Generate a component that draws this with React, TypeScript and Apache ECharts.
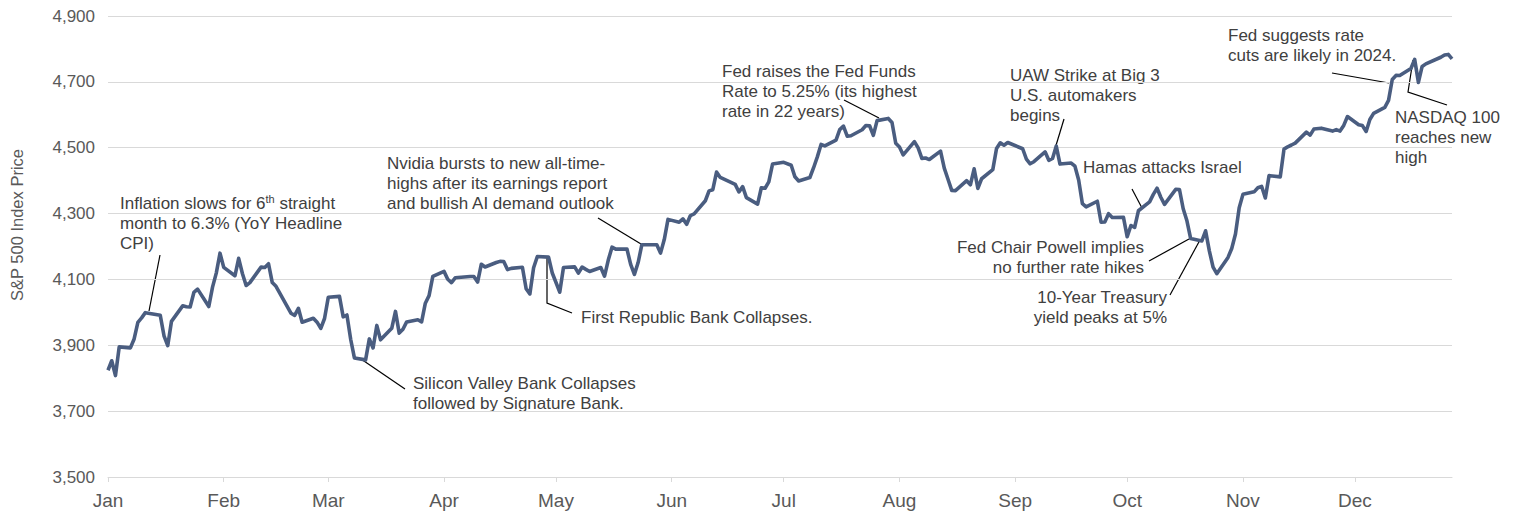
import React, { useEffect, useRef } from "react";
import * as echarts from "echarts";

const YEAR = 2023;
const MONTH_NAMES = ["Jan", "Feb", "Mar", "Apr", "May", "Jun", "Jul", "Aug", "Sep", "Oct", "Nov", "Dec"];
const Y_MIN = 3500;
const Y_MAX = 4900;
const Y_STEP = 200;

const JAN_DAYS = [3, 4, 5, 6, 9, 10, 11, 12, 13, 17, 18, 19, 20, 23, 24, 25, 26, 27, 30, 31];
const JAN_CLOSE = [3824.14, 3852.97, 3808.1, 3895.08, 3892.09, 3919.25, 3969.61, 3983.17, 3999.09, 3990.97, 3928.86, 3898.85, 3972.61, 4019.81, 4016.95, 4016.22, 4060.43, 4070.56, 4017.77, 4076.6];
const FEB_DAYS = [1, 2, 3, 6, 7, 8, 9, 10, 13, 14, 15, 16, 17, 21, 22, 23, 24, 27, 28];
const FEB_CLOSE = [4119.21, 4179.76, 4136.48, 4111.08, 4164.0, 4117.86, 4081.5, 4090.46, 4137.29, 4136.13, 4147.6, 4090.41, 4079.09, 3997.34, 3991.05, 4012.32, 3970.04, 3982.24, 3970.15];
const MAR_DAYS = [1, 2, 3, 6, 7, 8, 9, 10, 13, 14, 15, 16, 17, 20, 21, 22, 23, 24, 27, 28, 29, 30, 31];
const MAR_CLOSE = [3951.39, 3981.35, 4045.64, 4048.42, 3986.37, 3992.01, 3918.32, 3861.59, 3855.76, 3919.29, 3891.93, 3960.28, 3916.64, 3951.57, 4002.87, 3936.97, 3948.72, 3970.99, 3977.53, 3971.27, 4027.81, 4050.83, 4109.31];
const APR_DAYS = [3, 4, 5, 6, 10, 11, 12, 13, 14, 17, 18, 19, 20, 21, 24, 25, 26, 27, 28];
const APR_CLOSE = [4124.51, 4100.6, 4090.38, 4105.02, 4109.11, 4108.94, 4091.95, 4146.22, 4137.64, 4151.32, 4154.87, 4154.52, 4129.79, 4133.52, 4137.04, 4071.63, 4055.99, 4135.35, 4169.48];
const MAY_DAYS = [1, 2, 3, 4, 5, 8, 9, 10, 11, 12, 15, 16, 17, 18, 19, 22, 23, 24, 25, 26, 30, 31];
const MAY_CLOSE = [4167.87, 4119.58, 4090.75, 4061.22, 4136.25, 4138.12, 4119.17, 4137.64, 4130.62, 4124.08, 4136.28, 4109.9, 4158.77, 4198.05, 4191.98, 4192.63, 4145.58, 4115.24, 4151.28, 4205.45, 4205.52, 4179.83];
const JUN_DAYS = [1, 2, 5, 6, 7, 8, 9, 12, 13, 14, 15, 16, 20, 21, 22, 23, 26, 27, 28, 29, 30];
const JUN_CLOSE = [4221.02, 4282.37, 4273.79, 4283.85, 4267.52, 4293.93, 4298.86, 4338.93, 4369.01, 4372.59, 4425.84, 4409.59, 4388.71, 4365.69, 4381.89, 4348.33, 4328.82, 4378.41, 4376.86, 4396.44, 4450.38];
const JUL_DAYS = [3, 5, 6, 7, 10, 11, 12, 13, 14, 17, 18, 19, 20, 21, 24, 25, 26, 27, 28, 31];
const JUL_CLOSE = [4455.59, 4446.82, 4411.59, 4398.95, 4409.53, 4439.26, 4472.16, 4510.04, 4505.42, 4522.79, 4554.98, 4565.72, 4534.87, 4536.34, 4554.64, 4567.46, 4566.75, 4537.41, 4582.23, 4588.96];
const AUG_DAYS = [1, 2, 3, 4, 7, 8, 9, 10, 11, 14, 15, 16, 17, 18, 21, 22, 23, 24, 25, 28, 29, 30, 31];
const AUG_CLOSE = [4576.73, 4513.39, 4501.89, 4478.03, 4518.44, 4499.38, 4467.71, 4468.83, 4464.05, 4489.72, 4437.86, 4404.33, 4370.36, 4369.71, 4399.77, 4387.55, 4436.01, 4376.31, 4405.71, 4433.31, 4497.63, 4514.87, 4507.66];
const SEP_DAYS = [1, 5, 6, 7, 8, 11, 12, 13, 14, 15, 18, 19, 20, 21, 22, 25, 26, 27, 28, 29];
const SEP_CLOSE = [4515.77, 4496.83, 4465.48, 4451.14, 4457.49, 4487.46, 4461.9, 4467.44, 4505.1, 4450.32, 4453.53, 4443.95, 4402.2, 4330.0, 4320.06, 4337.44, 4273.53, 4274.51, 4299.7, 4288.05];
const OCT_DAYS = [2, 3, 4, 5, 6, 9, 10, 11, 12, 13, 16, 17, 18, 19, 20, 23, 24, 25, 26, 27, 30, 31];
const OCT_CLOSE = [4288.39, 4229.45, 4263.75, 4258.19, 4308.5, 4335.66, 4358.24, 4376.95, 4349.61, 4327.78, 4373.63, 4373.2, 4314.6, 4278.0, 4224.16, 4217.04, 4247.68, 4186.77, 4137.23, 4117.37, 4166.82, 4193.8];
const NOV_DAYS = [1, 2, 3, 6, 7, 8, 9, 10, 13, 14, 15, 16, 17, 20, 21, 22, 24, 27, 28, 29, 30];
const NOV_CLOSE = [4237.86, 4317.78, 4358.34, 4365.98, 4378.38, 4382.78, 4347.35, 4415.24, 4411.55, 4495.7, 4502.88, 4508.24, 4514.02, 4547.38, 4538.19, 4556.62, 4559.34, 4550.43, 4554.89, 4550.58, 4567.8];
const DEC_DAYS = [1, 4, 5, 6, 7, 8, 11, 12, 13, 14, 15, 18, 19, 20, 21, 22, 26, 27, 28, 29];
const DEC_CLOSE = [4594.63, 4569.78, 4567.18, 4549.34, 4585.59, 4604.37, 4622.44, 4643.7, 4707.09, 4719.55, 4719.19, 4740.56, 4768.37, 4698.35, 4746.75, 4754.63, 4774.75, 4781.58, 4783.35, 4769.83];

const MONTH_DAYS = [JAN_DAYS, FEB_DAYS, MAR_DAYS, APR_DAYS, MAY_DAYS, JUN_DAYS, JUL_DAYS, AUG_DAYS, SEP_DAYS, OCT_DAYS, NOV_DAYS, DEC_DAYS];
const MONTH_CLOSES = [JAN_CLOSE, FEB_CLOSE, MAR_CLOSE, APR_CLOSE, MAY_CLOSE, JUN_CLOSE, JUL_CLOSE, AUG_CLOSE, SEP_CLOSE, OCT_CLOSE, NOV_CLOSE, DEC_CLOSE];

const FONT = "'Liberation Sans', Arial, Helvetica, sans-serif";
const TEXT_COLOR = "#404040";
const AXIS_COLOR = "#595959";
const GRID_COLOR = "#d9d9d9";
const LINE_COLOR = "#4a5d80";

const DAY_MS = 86400000;
function ts(m: number, d: number) {
  return Date.UTC(YEAR, m, d) / DAY_MS;
}
function monthOf(dayNum: number) {
  return new Date(Math.round(dayNum) * DAY_MS).getUTCMonth();
}

export default function App() {
  const ref = useRef<HTMLDivElement>(null);

  useEffect(() => {
    if (!ref.current) return;
    const chart = echarts.init(ref.current, undefined, { renderer: "svg" });

    const data: [number, number][] = [];
    MONTH_DAYS.forEach((days, m) => {
      days.forEach((d, i) => data.push([ts(m, d), MONTH_CLOSES[m][i]]));
    });
    const tickValues = MONTH_NAMES.map((_, m) => ts(m, 3));

    const note = (x: number, y: number, text: string, align: string = "left", rich?: any) => ({
      type: "text",
      x,
      y: y - 10,
      silent: true,
      style: {
        text,
        fontSize: 17,
        fontFamily: FONT,
        fill: TEXT_COLOR,
        align,
        verticalAlign: "top",
        lineHeight: 20,
        rich,
      },
    });
    const leader = (pts: number[][]) => ({
      type: "polyline",
      silent: true,
      shape: { points: pts },
      style: { stroke: "#000", lineWidth: 1.2, fill: null },
    });

    chart.setOption({
      animation: false,
      backgroundColor: "#fff",
      grid: { left: 108, right: 63, top: 16, bottom: 35, containLabel: false },
      xAxis: {
        type: "value",
        min: ts(0, 3),
        max: ts(11, 29),
        axisLine: { show: true, lineStyle: { color: GRID_COLOR, width: 1 } },
        axisTick: { show: true, length: 5, lineStyle: { color: GRID_COLOR }, customValues: tickValues },
        axisLabel: {
          customValues: tickValues,
          color: AXIS_COLOR,
          fontSize: 19,
          fontFamily: FONT,
          margin: 14,
          formatter: (v: number) => MONTH_NAMES[monthOf(v)],
        },
        splitLine: { show: false },
      },
      yAxis: {
        type: "value",
        min: Y_MIN,
        max: Y_MAX,
        interval: Y_STEP,
        axisLine: { show: false },
        axisTick: { show: false },
        axisLabel: {
          color: AXIS_COLOR,
          fontSize: 17,
          fontFamily: FONT,
          margin: 13,
          formatter: (v: number) => v.toLocaleString("en-US"),
        },
        splitLine: { show: true, lineStyle: { color: GRID_COLOR, width: 1 } },
      },
      series: [
        {
          type: "line",
          data,
          showSymbol: false,
          symbol: "none",
          lineStyle: { color: LINE_COLOR, width: 3.6, join: "round" },
        },
      ],
      graphic: [
        {
          type: "text",
          x: 17,
          y: 225,
          rotation: Math.PI / 2,
          silent: true,
          style: {
            text: "S&P 500 Index Price",
            fontSize: 16.5,
            fontFamily: FONT,
            fill: AXIS_COLOR,
            align: "center",
            verticalAlign: "middle",
          },
        },
        note(120, 203, "Inflation slows for 6{sup|th} straight\nmonth to 6.3% (YoY Headline\nCPI)", "left", {
          sup: { fontSize: 11, verticalAlign: "top", lineHeight: 20, fill: TEXT_COLOR, fontFamily: FONT },
        }),
        leader([[160, 255], [149, 311]]),
        note(413, 383, "Silicon Valley Bank Collapses\nfollowed by Signature Bank."),
        leader([[361, 359], [405, 389]]),
        note(387, 163, "Nvidia bursts to new all-time-\nhighs after its earnings report\nand bullish AI demand outlook"),
        leader([[598, 218], [641, 244]]),
        note(581, 317, "First Republic Bank Collapses."),
        leader([[547, 256], [547, 303], [572, 313]]),
        note(722, 71, "Fed raises the Fed Funds\nRate to 5.25% (its highest\nrate in 22 years)"),
        leader([[844, 100], [879, 118]]),
        note(1010, 75, "UAW Strike at Big 3\nU.S. automakers\nbegins"),
        leader([[1064, 119], [1054, 152]]),
        note(1083, 167, "Hamas attacks Israel"),
        leader([[1132, 189], [1142, 208]]),
        note(1144, 247, "Fed Chair Powell implies\nno further rate hikes", "right"),
        leader([[1149, 261], [1189, 239]]),
        note(1167, 297, "10-Year Treasury\nyield peaks at 5%", "right"),
        leader([[1170, 295], [1200, 240]]),
        note(1228, 35, "Fed suggests rate\ncuts are likely in 2024."),
        leader([[1332, 73], [1389, 83]]),
        note(1395, 117, "NASDAQ 100\nreaches new\nhigh"),
        leader([[1413, 60], [1408, 92], [1447, 105]]),
      ],
    });

    return () => chart.dispose();
  }, []);

  return (
    <div
      ref={ref}
      style={{ position: "absolute", left: 0, top: 0, width: 1515, height: 512, background: "#fff" }}
    />
  );
}
